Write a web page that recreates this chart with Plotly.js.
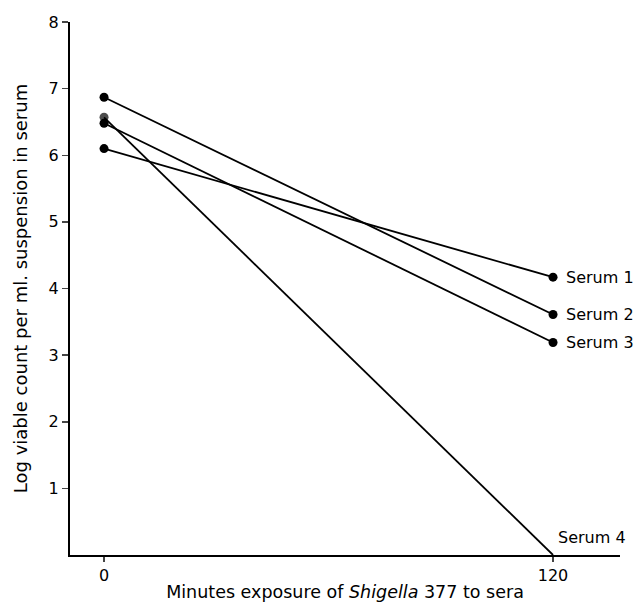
<!DOCTYPE html>
<html><head><meta charset="utf-8">
<script src="https://cdn.plot.ly/plotly-3.0.1.min.js"></script>
<style>body{margin:0;background:#fff}#c{width:640px;height:605px}</style>
</head><body><div id="c"></div>
<script>
const minutes = [0, 120];
const seriesNames = ["Serum 1", "Serum 2", "Serum 3", "Serum 4"];
const serum1 = [6.10, 4.17];
const serum2 = [6.87, 3.61];
const serum3 = [6.48, 3.19];
const serum4 = [6.57, 0.0];
const xTicks = [0, 120];
const yTicks = [1, 2, 3, 4, 5, 6, 7, 8];

const allSeries = [serum1, serum2, serum3, serum4];
const font = "'DejaVu Sans', 'Open Sans', sans-serif";
const traces = allSeries.map((vals, i) => ({
  x: minutes, y: vals, type: "scatter", mode: "lines+markers",
  line: {color: "#000", width: 1.8},
  marker: {color: "#000", size: i === 3 ? [9, 0] : 9, line: {width: 0}},
  cliponaxis: false, showlegend: false, name: seriesNames[i]
}));
const annotations = allSeries.map((vals, i) => ({
  x: minutes[1], y: vals[1], xref: "x", yref: "y",
  text: seriesNames[i], showarrow: false, xanchor: "left",
  xshift: i === 3 ? 3 : 11, yshift: i === 3 ? 18 : 0,
  font: {family: font, size: 16, color: "#000"}
}));
Plotly.newPlot("c", traces, {
  width: 640, height: 605,
  margin: {l: 70, r: 20, t: 22, b: 50},
  paper_bgcolor: "#fff", plot_bgcolor: "#fff",
  font: {family: font, size: 16, color: "#000"},
  xaxis: {range: [-9.1, 137.9], tickvals: xTicks, ticks: "outside", ticklen: 5,
    tickwidth: 1.5, showline: true, linewidth: 2, linecolor: "#000",
    showgrid: false, zeroline: false, tickfont: {size: 16},
    title: {text: "Minutes exposure of <i>Shigella</i> 377 to sera", standoff: 2,
      font: {family: font, size: 17.5}}},
  yaxis: {range: [0, 8], tickvals: yTicks, ticks: "outside", ticklen: 6,
    tickwidth: 1.5, showline: true, linewidth: 2, linecolor: "#000",
    showgrid: false, zeroline: false, tickfont: {size: 16},
    title: {text: "Log viable count per ml. suspension in serum", standoff: 16,
      font: {family: font, size: 18}}},
  annotations: annotations
}, {staticPlot: true});
</script></body></html>
